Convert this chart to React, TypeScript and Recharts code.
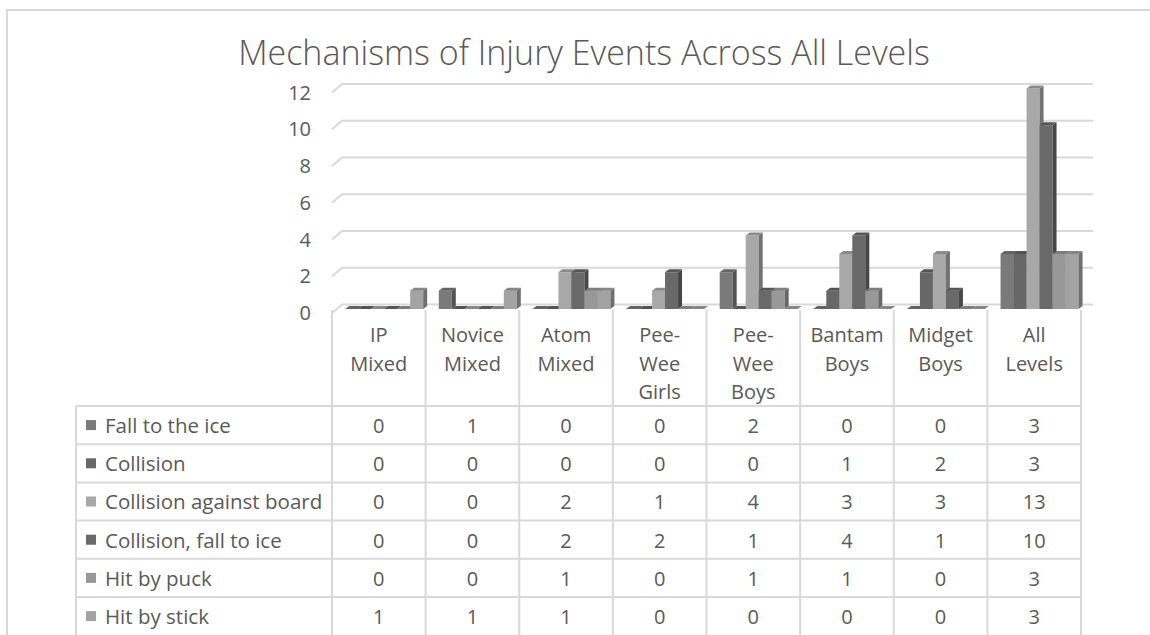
// @ts-nocheck
import React from 'react';
import { BarChart, Bar, XAxis, YAxis, CartesianGrid } from 'recharts';

// categories / values
const categories = ['IP Mixed', 'Novice Mixed', 'Atom Mixed', 'Pee-Wee Girls', 'Pee-Wee Boys', 'Bantam Boys', 'Midget Boys', 'All Levels'];
const fallToIce = [0, 1, 0, 0, 2, 0, 0, 3];
const collision = [0, 0, 0, 0, 0, 1, 2, 3];
const collisionBoard = [0, 0, 2, 1, 4, 3, 3, 13];
const collisionFall = [0, 0, 2, 2, 1, 4, 1, 10];
const hitByPuck = [0, 0, 1, 0, 1, 1, 0, 3];
const hitByStick = [1, 1, 1, 0, 0, 0, 0, 3];
const seriesNames = ['Fall to the ice', 'Collision', 'Collision against board', 'Collision, fall to ice', 'Hit by puck', 'Hit by stick'];
const yTicks = [0, 2, 4, 6, 8, 10, 12];

const seriesValues = [fallToIce, collision, collisionBoard, collisionFall, hitByPuck, hitByStick];
const seriesColors = ['#7a7a7a', '#676767', '#a8a8a8', '#696969', '#989898', '#a3a3a3'];

const W = 1150;
const H = 635;
const FONT = '"Open Sans", sans-serif';
const TEXT = '#595959';
const LINE = '#d9d9d9';

// plot area (front plane of the 3D box); table columns line up with it
const PLOT_LEFT = 332;
const PLOT_RIGHT = 1081;
const PLOT_TOP = 92.5;
const PLOT_BOTTOM = 313;
const Y_AXIS_W = 60;
const DEPTH_X = 10;
const DEPTH_Y = 8.5;

// data table
const TABLE_LEFT = 76;
const HEADER_TOP = 310;
const ROWS_TOP = 406;
const ROW_H = 38.2;

const yMax = yTicks[yTicks.length - 1];

const series = seriesNames.map((name, i) => ({
  key: `s${i}`,
  name,
  values: seriesValues[i],
  color: seriesColors[i],
}));

// the chart clips at the axis max (13 is drawn as 12, like the original)
const chartData = categories.map((category, i) => {
  const row = { category };
  series.forEach((s) => {
    row[s.key] = Math.min(s.values[i], yMax);
  });
  return row;
});

function shade(hex, f) {
  const n = parseInt(hex.slice(1), 16);
  const ch = (v) => Math.max(0, Math.min(255, Math.round(v * f)));
  const r = ch((n >> 16) & 255);
  const g = ch((n >> 8) & 255);
  const b = ch(n & 255);
  return `rgb(${r},${g},${b})`;
}

// simple extruded column: front face + right side + top
function Bar3D(props) {
  const { x, y, width, height, fill } = props;
  if (x == null || y == null) return null;
  const h = Math.max(0, height || 0);
  const fx = x + 4;
  const fy = y - 4;
  const dx = 4;
  const dy = 3;
  const bottom = fy + h;
  return (
    <g>
      {h > 0 && <rect x={fx} y={fy} width={width} height={h} fill={fill} />}
      <polygon
        points={`${fx + width},${fy} ${fx + width + dx},${fy - dy} ${fx + width + dx},${bottom - dy} ${fx + width},${bottom}`}
        fill={shade(fill, 0.68)}
      />
      <polygon
        points={`${fx},${fy} ${fx + width},${fy} ${fx + width + dx},${fy - dy} ${fx + dx},${fy - dy}`}
        fill={shade(fill, 0.82)}
      />
    </g>
  );
}

const gridLine = (p) => (
  <path
    key={`grid-${p.index}`}
    d={`M${p.x1},${p.y1} L${p.x1 + DEPTH_X},${p.y1 - DEPTH_Y} L${p.x2 + 12},${p.y1 - DEPTH_Y}`}
    stroke={LINE}
    strokeWidth={2}
    fill="none"
  />
);

function DataTable() {
  const colW = (PLOT_RIGHT - PLOT_LEFT) / categories.length;
  const bottom = H + 2;
  return (
    <svg width={W} height={H} style={{ position: 'absolute', left: 0, top: 0 }}>
      {/* outer chart border (top and left edges are in view) */}
      <path d={`M7,${H} L7,10 L${W},10`} stroke={LINE} strokeWidth={2} fill="none" />
      <text x={584} y={65} textAnchor="middle" fontSize={34} fontWeight={300} fill={TEXT} fontFamily={FONT}>
        Mechanisms of Injury Events Across All Levels
      </text>

      {/* column separators */}
      {categories.map((c, i) => (
        <line key={`v${i}`} x1={PLOT_LEFT + i * colW} x2={PLOT_LEFT + i * colW} y1={HEADER_TOP} y2={bottom} stroke={LINE} strokeWidth={2} />
      ))}
      <line x1={PLOT_RIGHT} x2={PLOT_RIGHT} y1={HEADER_TOP} y2={bottom} stroke={LINE} strokeWidth={2} />
      <line x1={TABLE_LEFT} x2={TABLE_LEFT} y1={ROWS_TOP} y2={bottom} stroke={LINE} strokeWidth={2} />

      {/* row lines */}
      {series.map((s, r) => (
        <line key={`h${r}`} x1={TABLE_LEFT} x2={PLOT_RIGHT} y1={ROWS_TOP + r * ROW_H} y2={ROWS_TOP + r * ROW_H} stroke={LINE} strokeWidth={2} />
      ))}

      {/* header: category names, wrapped at spaces and hyphens */}
      {categories.map((c, i) => {
        const lines = c.split(/(?<=-)|\s+/);
        return (
          <text key={`c${i}`} textAnchor="middle" fontSize={20} fill={TEXT} fontFamily={FONT}>
            {lines.map((ln, j) => (
              <tspan key={j} x={PLOT_LEFT + (i + 0.5) * colW} y={342 + j * 28.5}>
                {ln}
              </tspan>
            ))}
          </text>
        );
      })}

      {/* body rows */}
      {series.map((s, r) => {
        const top = ROWS_TOP + r * ROW_H;
        return (
          <g key={`r${r}`}>
            <rect x={86} y={top + ROW_H / 2 - 5} width={10} height={10} fill={s.color} />
            <text x={105} y={top + 27} fontSize={20.5} fill={TEXT} fontFamily={FONT}>
              {s.name}
            </text>
            {s.values.map((v, i) => (
              <text key={i} x={PLOT_LEFT + (i + 0.5) * colW} y={top + 27} textAnchor="middle" fontSize={20} fill={TEXT} fontFamily={FONT}>
                {v}
              </text>
            ))}
          </g>
        );
      })}
    </svg>
  );
}

export default function App() {
  return (
    <div style={{ position: 'absolute', left: 0, top: 0, width: W, height: H, background: '#fff', overflow: 'hidden', fontFamily: FONT }}>
      <DataTable />
      <div style={{ position: 'absolute', left: 0, top: 0 }}>
        <BarChart
          width={W}
          height={H}
          data={chartData}
          margin={{ top: PLOT_TOP, right: W - PLOT_RIGHT, bottom: H - PLOT_BOTTOM, left: PLOT_LEFT - Y_AXIS_W }}
          barCategoryGap="9.8%"
          barGap={0}
        >
          <CartesianGrid vertical={false} horizontal={gridLine} />
          <XAxis dataKey="category" hide />
          <YAxis
            width={Y_AXIS_W}
            domain={[0, yMax]}
            ticks={yTicks}
            interval={0}
            axisLine={false}
            tickLine={false}
            tickSize={0}
            tickMargin={21}
            tick={{ fill: TEXT, fontSize: 20, fontFamily: FONT }}
          />
          {series.map((s) => (
            <Bar key={s.key} dataKey={s.key} name={s.name} fill={s.color} shape={Bar3D} isAnimationActive={false} />
          ))}
        </BarChart>
      </div>
    </div>
  );
}
